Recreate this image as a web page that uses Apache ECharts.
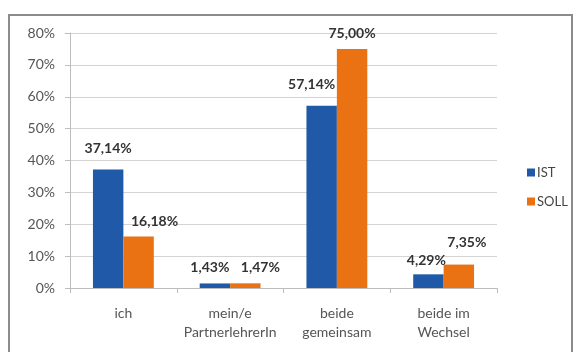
<!DOCTYPE html>
<html>
<head>
<meta charset="utf-8">
<script src="https://cdn.jsdelivr.net/npm/echarts@6/dist/echarts.min.js"></script>
<style>
  html, body { margin: 0; padding: 0; background: #fff; }
  #chart { width: 576px; height: 352px; }
</style>
</head>
<body>
<div id="chart"></div>
<script>
// Categories and the two series (percent values)
const categories = ['ich', 'mein/e\nPartnerlehrerIn', 'beide\ngemeinsam', 'beide im\nWechsel'];
const istValues = [37.14, 1.43, 57.14, 4.29];
const sollValues = [16.18, 1.47, 75.00, 7.35];
const yTicks = [0, 10, 20, 30, 40, 50, 60, 70, 80];

// Label nudges per bar, [x, y] in pixels
const istLabelOffsets = [[0, -6], [-5, -1], [-10, -6], [-2, 1]];
const sollLabelOffsets = [[16, 0], [15, -1], [0, 0], [8, -7]];

const fmt = v => v.toFixed(2).replace('.', ',') + '%';
const fontFamily = 'Lato, "Open Sans", sans-serif';

function buildData(values, offsets) {
  return values.map((v, i) => ({
    value: v,
    label: { offset: offsets[i] }
  }));
}

const labelStyle = {
  show: true,
  position: 'top',
  distance: 8,
  fontFamily,
  fontSize: 14,
  fontWeight: 'bold',
  color: '#333',
  formatter: p => fmt(p.value)
};

const chart = echarts.init(document.getElementById('chart'), null, { renderer: 'canvas' });
chart.setOption({
  animation: false,
  backgroundColor: '#fff',
  graphic: [{
    type: 'rect',
    shape: { x: 9, y: 15, width: 563, height: 345 },
    style: { fill: 'none', stroke: '#8c8c8c', lineWidth: 2 },
    z: 100
  }],
  grid: { left: 70, right: 79, top: 33, bottom: 64 },
  legend: {
    orient: 'vertical',
    left: 522,
    top: 161,
    itemWidth: 8,
    itemHeight: 8,
    itemGap: 16,
    icon: 'rect',
    textStyle: { fontFamily, fontSize: 13, color: '#444', padding: [0, 0, 0, -3] },
    data: ['IST', 'SOLL']
  },
  xAxis: {
    type: 'category',
    data: categories,
    axisLine: { lineStyle: { color: '#bdbdbd' } },
    axisTick: { show: true, length: 5, alignWithLabel: false, lineStyle: { color: '#bdbdbd' } },
    axisLabel: { interval: 0, fontFamily, fontSize: 14, color: '#555', lineHeight: 19, margin: 16, align: 'center' }
  },
  yAxis: {
    type: 'value',
    min: yTicks[0],
    max: yTicks[yTicks.length - 1],
    interval: 10,
    axisLine: { show: true, lineStyle: { color: '#bdbdbd' } },
    axisTick: { show: true, length: 5, lineStyle: { color: '#bdbdbd' } },
    axisLabel: { fontFamily, fontSize: 14, color: '#555', margin: 15, formatter: v => v + '%' },
    splitLine: { lineStyle: { color: '#d4d4d4' } }
  },
  series: [
    {
      name: 'IST',
      type: 'bar',
      data: buildData(istValues, istLabelOffsets),
      barGap: '0%',
      barCategoryGap: '43%',
      itemStyle: { color: '#1f59a7' },
      label: labelStyle
    },
    {
      name: 'SOLL',
      type: 'bar',
      data: buildData(sollValues, sollLabelOffsets),
      itemStyle: { color: '#ea7213' },
      label: labelStyle
    }
  ]
});
</script>
</body>
</html>
